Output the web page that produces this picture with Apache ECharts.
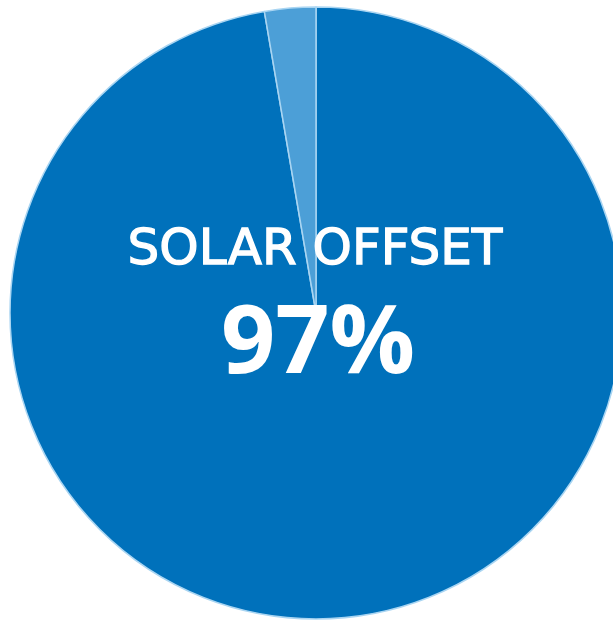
<!DOCTYPE html>
<html><head><meta charset="utf-8">
<script src="https://cdn.jsdelivr.net/npm/echarts@6/dist/echarts.min.js"></script>
<style>html,body{margin:0;padding:0;background:#fff}#c{width:613px;height:621px}</style>
</head><body><div id="c"></div>
<script>
const categories = ['Solar offset', 'Remaining'];
const values = [97.3, 2.7];
const titleText = 'SOLAR OFFSET';
const valueText = '97%';
const colors = ['#0071BB', '#4C9FD7'];

const chart = echarts.init(document.getElementById('c'), null, {renderer: 'canvas'});
chart.setOption({
  animation: false,
  series: [{
    type: 'pie',
    center: [316, 313],
    radius: [0, 306],
    startAngle: 90,
    clockwise: true,
    label: {show: false},
    labelLine: {show: false},
    silent: true,
    itemStyle: {borderColor: '#A9D5F2', borderWidth: 1.5},
    data: categories.map((c, i) => ({name: c, value: values[i], itemStyle: {color: colors[i]}}))
  }],
  graphic: [
    {type: 'text', z: 100, x: 315, y: 251, style: {text: titleText, fill: '#fff', stroke: '#fff', lineWidth: 1.3, font: '50px "DejaVu Sans"', align: 'center', verticalAlign: 'middle'}},
    {type: 'text', z: 100, x: 318, y: 346, style: {text: valueText, fill: '#fff', font: 'bold 95px "Open Sans"', align: 'center', verticalAlign: 'middle'}}
  ]
});
</script></body></html>
